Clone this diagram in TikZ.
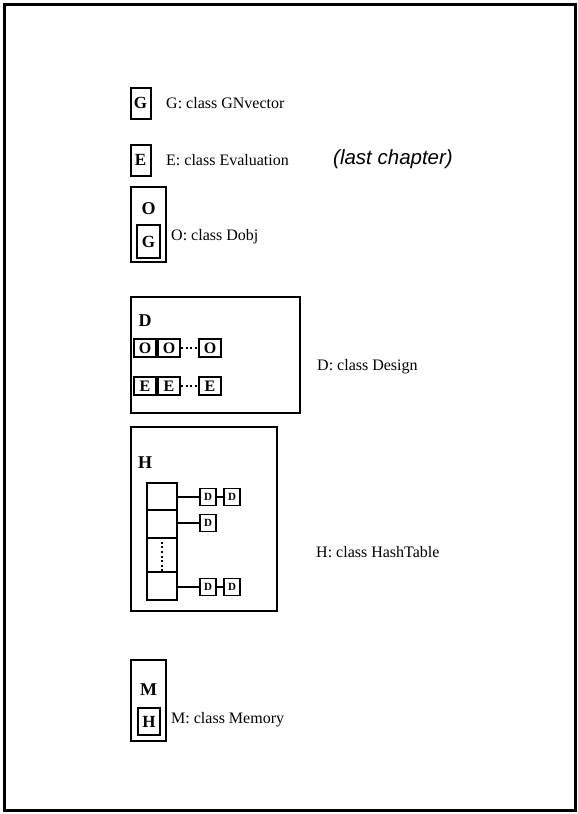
\documentclass[tikz,border=0pt]{standalone}
\usepackage{fontspec}
\setmainfont{Liberation Serif}
\newfontfamily\notefont{Liberation Sans}
\usetikzlibrary{positioning}

\begin{document}
\begin{tikzpicture}[x=1pt, y=-1pt]

  % Styles for the class boxes
  \tikzset{
    clsbox/.style={draw, line width=2pt, inner sep=0pt,
      minimum width=20pt, minimum height=31pt,
      font=\fontsize{17}{17}\selectfont\bfseries},
    holder/.style={draw, line width=2pt, inner sep=0pt},
    letter/.style={inner sep=0pt, font=\fontsize{18}{18}\selectfont\bfseries},
    item/.style={draw, line width=1.8pt, inner sep=0pt,
      minimum width=22pt, minimum height=18pt,
      font=\fontsize{16}{16}\selectfont\bfseries},
    small/.style={draw, line width=1.6pt, inner sep=0pt,
      minimum width=16pt, minimum height=17pt,
      font=\fontsize{11}{11}\selectfont\bfseries},
    slot/.style={draw, line width=1.6pt, inner sep=0pt, minimum width=30pt},
    desc/.style={anchor=west, inner sep=0pt, font=\fontsize{16}{16}\selectfont},
    link/.style={line width=1.8pt},
    gap/.style={line width=2pt, dash pattern=on 2pt off 2.6pt}
  }

  \useasboundingbox (0,0) rectangle (578,814);
  \draw[line width=3pt] (4,4) rectangle (575,810);

  % G and E
  \node[clsbox] (G) at (140.5,103) {G};
  \node[desc] (Gtext) at (166,103) {G: class GNvector};
  \node[clsbox] (E) at (140.5,160) {E};
  \node[desc] (Etext) at (166,160) {E: class Evaluation};
  \node[anchor=west, inner sep=0pt, font=\notefont\itshape\fontsize{20.5}{21}\selectfont]
    (note) at (333,159) {(last chapter)};

  % O holds a G
  \node[holder, minimum width=35pt, minimum height=75pt] (O) at (148.5,224.5) {};
  \node[letter] (Olabel) at (148.5,209) {O};
  \node[clsbox, minimum width=23pt, minimum height=33pt] (OG) at (148.5,241.5) {G};
  \node[desc] (Otext) at (171,237) {O: class Dobj};

  % D holds rows of O and E
  \node[holder, minimum width=169pt, minimum height=116pt] (D) at (215.5,355) {};
  \node[letter] (Dlabel) at (145,321) {D};
  \node[item] (O1) at (145,348) {O};
  \node[item] (O2) at (169,348) {O};
  \node[item] (O3) at (210,348) {O};
  \node[item] (E1) at (145,386) {E};
  \node[item] (E2) at (169,386) {E};
  \node[item] (E3) at (210,386) {E};
  \draw[link] (O1) -- (O2);
  \draw[gap] (O2) -- (O3);
  \draw[link] (E1) -- (E2);
  \draw[gap] (E2) -- (E3);
  \node[desc] (Dtext) at (317,367) {D: class Design};

  % H: column of slots with chains of D
  \node[holder, minimum width=146pt, minimum height=184pt] (H) at (204,519) {};
  \node[letter] (Hlabel) at (145,463) {H};
  \node[slot, minimum height=27pt] (s1) at (162,496.5) {};
  \node[slot, minimum height=28pt] (s2) at (162,524) {};
  \node[slot, minimum height=34pt] (s3) at (162,555) {};
  \node[slot, minimum height=28pt] (s4) at (162,586) {};
  \draw[gap] (s3.north) -- (s3.south);
  \node[small] (d11) at (208,497) {D};
  \node[small] (d12) at (232,497) {D};
  \node[small] (d21) at (208,523) {D};
  \node[small] (d41) at (208,587) {D};
  \node[small] (d42) at (232,587) {D};
  \draw[link] (d11.west) -- (d11.west -| s1.east);
  \draw[link] (d11) -- (d12);
  \draw[link] (d21.west) -- (d21.west -| s2.east);
  \draw[link] (d41.west) -- (d41.west -| s4.east);
  \draw[link] (d41) -- (d42);
  \node[desc] (Htext) at (316,552) {H: class HashTable};

  % M holds an H
  \node[holder, minimum width=35pt, minimum height=81pt] (M) at (148.5,700.5) {};
  \node[letter] (Mlabel) at (148.5,690) {M};
  \node[clsbox, minimum width=22pt, minimum height=27pt] (MH) at (149,721.5) {H};
  \node[desc] (Mtext) at (171,720) {M: class Memory};

\end{tikzpicture}
\end{document}
